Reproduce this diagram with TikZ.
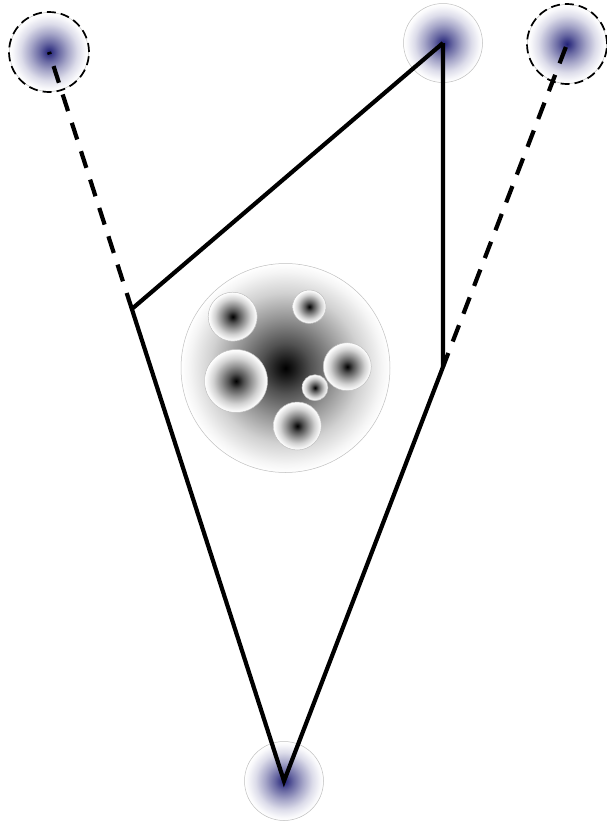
\documentclass[tikz,border=0pt]{standalone}
\usetikzlibrary{calc}
\definecolor{ballblue}{RGB}{35,35,120}
\pgfdeclareradialshading{softgray}{\pgfpointorigin}{color(0bp)=(black); color(2bp)=(black!90); color(6bp)=(black!68); color(12bp)=(black!42); color(18bp)=(black!18); color(23bp)=(black!4); color(25bp)=(white); color(50bp)=(white)}
\pgfdeclareradialshading{softblue}{\pgfpointorigin}{color(0bp)=(ballblue); color(2bp)=(ballblue!90); color(6bp)=(ballblue!68); color(12bp)=(ballblue!40); color(18bp)=(ballblue!16); color(23bp)=(ballblue!3); color(25bp)=(white); color(50bp)=(white)}
\tikzset{
  ball/.style={circle, minimum size=79pt, inner sep=0pt, draw=gray!50, line width=0.5pt, shade, shading=softblue},
  ring/.style={circle, minimum size=80pt, inner sep=0pt, draw=black, line width=1.7pt, dash pattern=on 9pt off 5pt},
  blob/.style={circle, inner sep=0pt, draw=gray!50, line width=0.5pt, shade, shading=softgray},
  solidln/.style={line width=4.2pt, black},
  dashln/.style={line width=4.2pt, black, dash pattern=on 17.5pt off 12.3pt, dash phase=17.5pt},
}
\begin{document}
\begin{tikzpicture}[x=1pt,y=-1pt]
\useasboundingbox[fill=white] (0,0) rectangle (607,823);
% outer balls
\node[ball] (TL) at (49,52) {};
\node[ball] (TM) at (443,43) {};
\node[ball] (TR) at (567,44) {};
\node[ball] (B) at (284,781) {};
\node[ring] (TLr) at (49,52) {};
\node[ring] (TRr) at (567,44) {};
% central cluster
\node[blob, minimum size=209pt] (C) at (285.5,368) {};
\node[blob, minimum size=49pt] (c1) at (232.7,316.7) {};
\node[blob, minimum size=33.4pt] (c2) at (309.3,306.7) {};
\node[blob, minimum size=63pt] (c3) at (236,381) {};
\node[blob, minimum size=48pt] (c4) at (347.3,366.7) {};
\node[blob, minimum size=26pt] (c5) at (315,387.7) {};
\node[blob, minimum size=48pt] (c6) at (297.3,426) {};
% construction points
\coordinate (CL) at ($(B)!0.6475!(TL)$);
\coordinate (CR) at ($(B)!0.5618!(TR)$);
\coordinate (LE) at ($(B)!0.6694!(TL)$);
\coordinate (RE) at ($(B)!0.5807!(TR)$);
% lines
\draw[solidln] (LE) -- (B.center) -- (RE);
\draw[solidln] (CL) -- (TM.center);
\draw[solidln] (TM.center) -- (CR);
\draw[dashln] (LE) -- (TL.center);
\draw[dashln] (RE) -- (TR.center);
\end{tikzpicture}
\end{document}
